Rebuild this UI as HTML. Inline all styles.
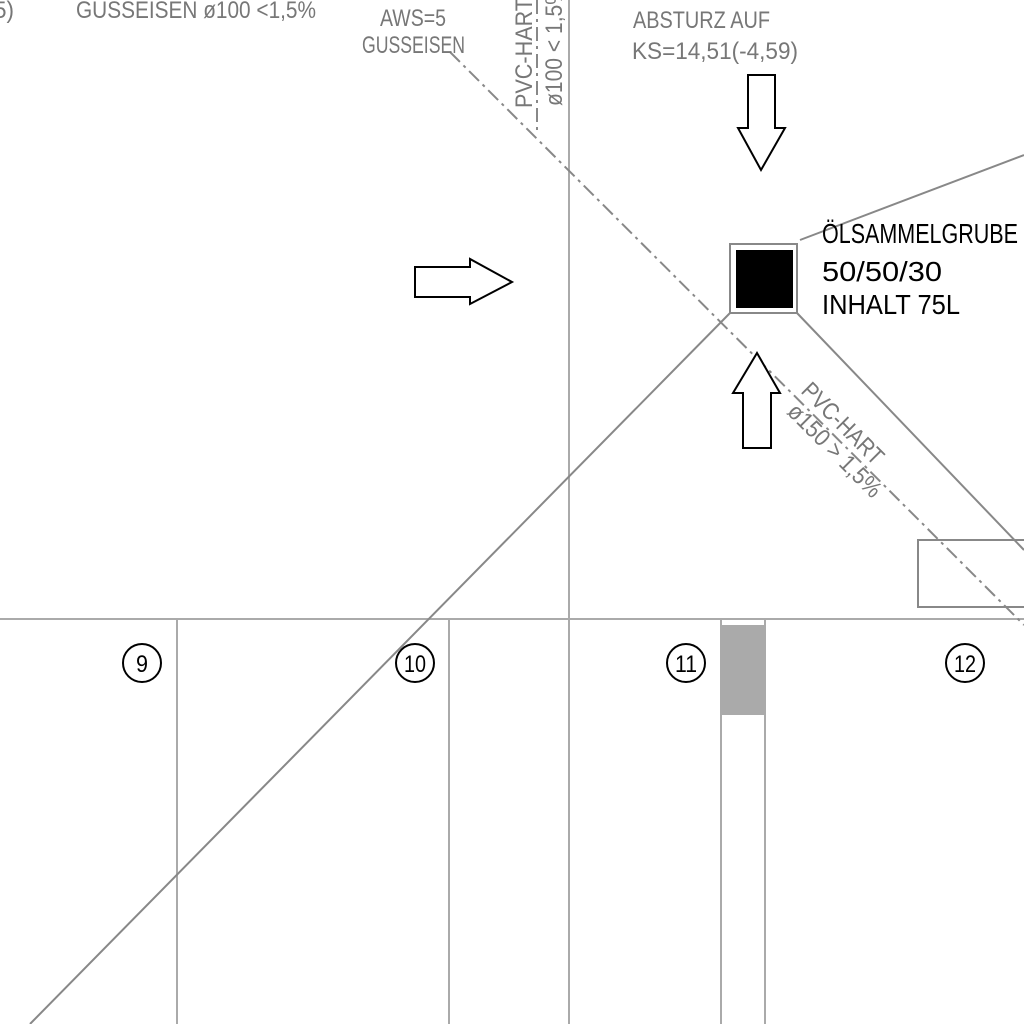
<!DOCTYPE html>
<html><head><style>
html,body{margin:0;padding:0;background:#fff;}
svg{display:block;}
text{font-family:"Liberation Sans Narrow","Liberation Sans",sans-serif;}
</style></head><body>
<svg width="1024" height="1024" viewBox="0 0 1024 1024" xmlns="http://www.w3.org/2000/svg">
<g stroke="#aaa" stroke-width="2" fill="none">
<line x1="569" y1="0" x2="569" y2="1024"/>
<line x1="0" y1="619" x2="1024" y2="619"/>
<line x1="177" y1="619" x2="177" y2="1024"/>
<line x1="449" y1="619" x2="449" y2="1024"/>
<line x1="721" y1="619" x2="721" y2="1024"/>
<line x1="765" y1="619" x2="765" y2="1024"/>
</g>
<rect x="722" y="625" width="43" height="90" fill="#aaa"/>
<g stroke="#888" stroke-width="2" fill="none">
<line x1="30" y1="1024" x2="730" y2="313"/>
<line x1="797" y1="313" x2="1024" y2="550"/>
<line x1="800" y1="240" x2="1024" y2="155"/>
<rect x="918" y="540" width="110" height="67"/>
<rect x="730" y="244" width="67" height="69"/>
<line x1="450" y1="52" x2="1024" y2="625" stroke-dasharray="14,5,3,5"/>
<line x1="537" y1="0" x2="537" y2="135" stroke-dasharray="14,5,3,5"/>
</g>
<rect x="736" y="250" width="57" height="58" fill="#000"/>
<g stroke="#000" stroke-width="2" fill="#fff">
<polygon points="748,75 775,75 775,128 785,128 761,170 738,128 748,128"/>
<polygon points="415,267 470,267 470,259 512,282 470,304 470,297 415,297"/>
<polygon points="757,353 780,393 771,393 771,448 743,448 743,393 733,393"/>
<circle cx="142" cy="663" r="19"/>
<circle cx="415" cy="663" r="19"/>
<circle cx="686" cy="663" r="19"/>
<circle cx="965" cy="663" r="19"/>
</g>
<g font-size="24" text-anchor="middle" fill="#000">
<text x="142" y="672" textLength="12" lengthAdjust="spacingAndGlyphs">9</text>
<text x="415" y="672" textLength="22" lengthAdjust="spacingAndGlyphs">10</text>
<text x="686" y="672" textLength="22" lengthAdjust="spacingAndGlyphs">11</text>
<text x="965" y="672" textLength="22" lengthAdjust="spacingAndGlyphs">12</text>
</g>
<g fill="#777" font-size="24">
<text x="-6" y="18" textLength="20" lengthAdjust="spacingAndGlyphs">5)</text>
<text x="76" y="18" textLength="240" lengthAdjust="spacingAndGlyphs">GUSSEISEN ø100  &lt;1,5%</text>
<text x="380" y="26" textLength="66" lengthAdjust="spacingAndGlyphs">AWS=5</text>
<text x="362" y="53" textLength="103" lengthAdjust="spacingAndGlyphs">GUSSEISEN</text>
<text x="633" y="28" textLength="137" lengthAdjust="spacingAndGlyphs">ABSTURZ AUF</text>
<text x="632" y="59" textLength="166" lengthAdjust="spacingAndGlyphs">KS=14,51(-4,59)</text>
<text transform="translate(532,108) rotate(-90)" textLength="110" lengthAdjust="spacingAndGlyphs">PVC-HART</text>
<text transform="translate(562,106) rotate(-90)" textLength="120" lengthAdjust="spacingAndGlyphs">ø100 &lt; 1,5%</text>
<text transform="translate(800,392) rotate(45)" textLength="105" lengthAdjust="spacingAndGlyphs">PVC-HART</text>
<text transform="translate(786,413) rotate(45)" textLength="122" lengthAdjust="spacingAndGlyphs">ø150 &gt; 1,5%</text>
</g>
<g fill="#000" font-size="28">
<text x="822" y="243" textLength="196" lengthAdjust="spacingAndGlyphs">ÖLSAMMELGRUBE</text>
<text x="822" y="281" textLength="120" lengthAdjust="spacingAndGlyphs">50/50/30</text>
<text x="822" y="314" textLength="138" lengthAdjust="spacingAndGlyphs">INHALT 75L</text>
</g>
</svg>
</body></html>
